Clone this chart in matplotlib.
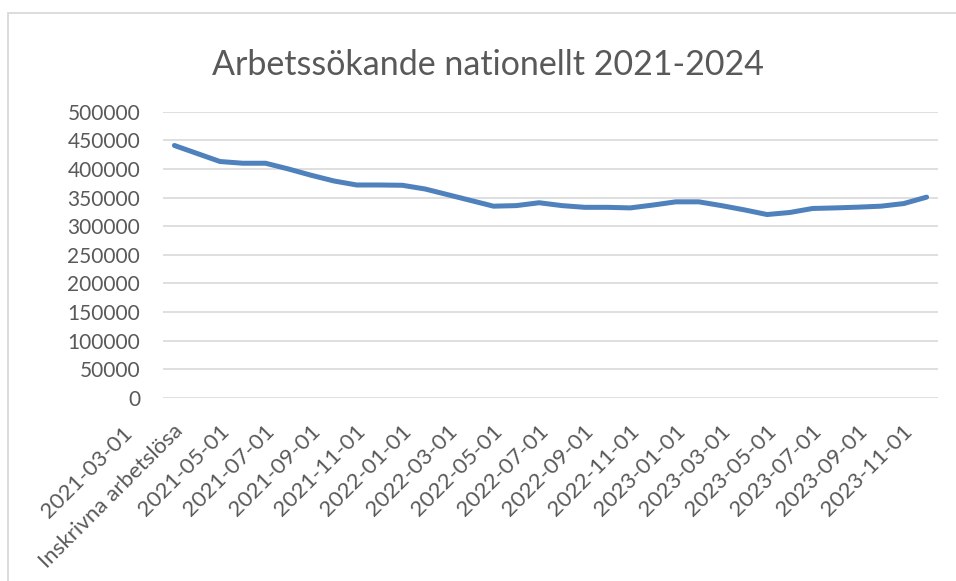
import matplotlib
matplotlib.use("Agg")
import matplotlib.pyplot as plt
import matplotlib.transforms as mtransforms
from matplotlib.patches import Rectangle

# ---------------- data ----------------
categories = [
    "2021-03-01", "2021-04-01", "2021-05-01", "2021-06-01", "2021-07-01", "2021-08-01",
    "2021-09-01", "2021-10-01", "2021-11-01", "2021-12-01", "2022-01-01", "2022-02-01",
    "2022-03-01", "2022-04-01", "2022-05-01", "2022-06-01", "2022-07-01", "2022-08-01",
    "2022-09-01", "2022-10-01", "2022-11-01", "2022-12-01", "2023-01-01", "2023-02-01",
    "2023-03-01", "2023-04-01", "2023-05-01", "2023-06-01", "2023-07-01", "2023-08-01",
    "2023-09-01", "2023-10-01", "2023-11-01", "2023-12-01",
]
series_name = "Inskrivna arbetslösa"
values = [
    441000, 427000, 413000, 410000, 410000, 400000,
    389000, 379000, 372000, 372000, 371500, 365000,
    355000, 345000, 335000, 336000, 341000, 336000,
    333000, 333000, 332000, 337000, 342600, 342600,
    336000, 328600, 320400, 324000, 331000, 332000,
    333300, 335000, 339600, 350800,
]
title = "Arbetssökande nationellt 2021-2024"
y_ticks = [0, 50000, 100000, 150000, 200000, 250000, 300000, 350000, 400000, 450000, 500000]

# tick labels: every other category, first one carries the series name as second line
tick_idx = list(range(0, len(categories), 2))
tick_labels = [categories[i] if i != 0 else categories[i] + "\n" + series_name for i in tick_idx]

# ---------------- style ----------------
FONT = ["Lato", "DejaVu Sans"]
TXT = "#595959"
GRID = "#d9d9d9"
LINE = "#4F81BD"

W, H = 956, 581
fig = plt.figure(figsize=(W / 100, H / 100), dpi=100)
fig.patch.set_facecolor("white")

left, right, top, bottom = 163, 938, 111.7, 398
ax = fig.add_axes([left / W, 1 - bottom / H, (right - left) / W, (bottom - top) / H])

x = list(range(len(categories)))
ax.plot(x, values, color=LINE, lw=3.6, solid_capstyle="round", solid_joinstyle="round", zorder=3)

ax.set_xlim(-0.5, len(categories) - 0.5)
ax.set_ylim(0, 500000)
ax.set_yticks(y_ticks)
ax.set_yticklabels([str(v) for v in y_ticks], fontfamily=FONT, fontsize=15, color=TXT)
ax.grid(axis="y", color=GRID, lw=1.2, zorder=0)
ax.set_axisbelow(True)
for s in ax.spines.values():
    s.set_visible(False)
ax.tick_params(axis="y", length=0, pad=16.5)
ax.tick_params(axis="x", length=0, pad=0)

ax.set_xticks(tick_idx)
ax.set_xticklabels(tick_labels, fontfamily=FONT, fontsize=16, color=TXT,
                   rotation=45, ha="right", va="bottom", rotation_mode="anchor",
                   multialignment="center", linespacing=1.9)
offset = mtransforms.ScaledTranslation(0.13, -0.37, fig.dpi_scale_trans)
for lab in ax.get_xticklabels():
    lab.set_transform(lab.get_transform() + offset)

# title
fig.text(488 / W, 1 - 75 / H, title, ha="center", va="baseline",
         fontsize=24.5, color=TXT, fontfamily=FONT)

# chart border
fig.add_artist(Rectangle((8 / W, -0.1), 1.0, (1 - 13 / H) + 0.1, transform=fig.transFigure,
                         fill=False, edgecolor=GRID, lw=1.3))

fig.savefig("out.png", dpi=100)
